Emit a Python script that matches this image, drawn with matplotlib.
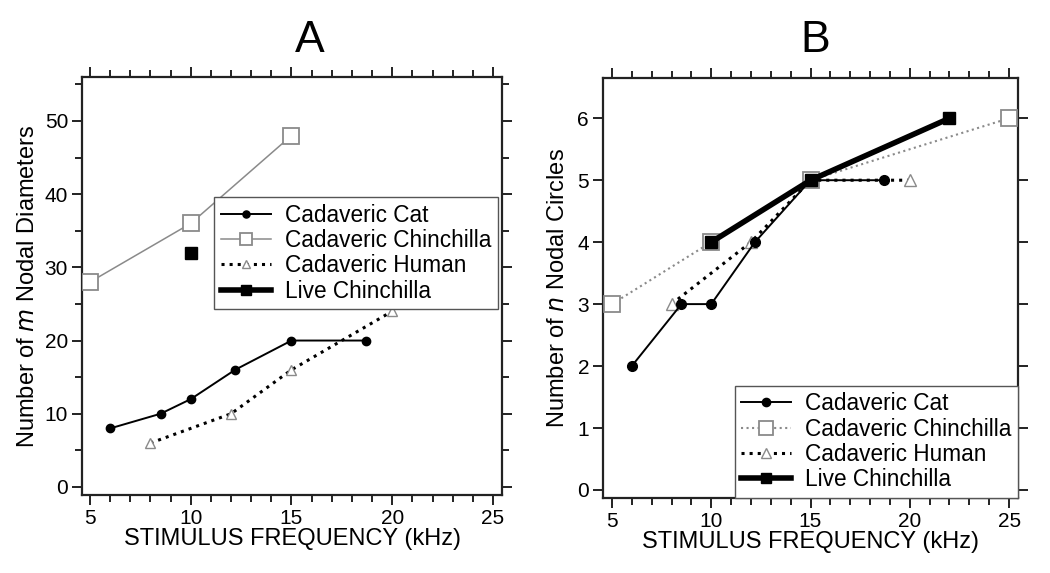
"""Nodal diameters / nodal circles vs stimulus frequency, two panels."""

import matplotlib
matplotlib.use("Agg")
import matplotlib.pyplot as plt
from matplotlib.ticker import MultipleLocator

plt.rcParams["font.family"] = ["Liberation Sans", "DejaVu Sans"]

# Panel A: number of m nodal diameters
a_cat_f = [6, 8.5, 10, 12.2, 15, 18.7]
a_cat_m = [8, 10, 12, 16, 20, 20]
a_chin_f = [5, 10, 15]
a_chin_m = [28, 36, 48]
a_hum_f = [8, 12, 15, 20]
a_hum_m = [6, 10, 16, 24]
a_live_f = [10]
a_live_m = [32]

# Panel B: number of n nodal circles
b_cat_f = [6, 8.5, 10, 12.2, 15, 18.7]
b_cat_n = [2, 3, 3, 4, 5, 5]
b_chin_f = [5, 10, 15, 25]
b_chin_n = [3, 4, 5, 6]
b_hum_f = [8, 12, 15, 20]
b_hum_n = [3, 4, 5, 5]
b_live_f = [10, 15, 22]
b_live_n = [4, 5, 6]

labels = ["Cadaveric Cat", "Cadaveric Chinchilla", "Cadaveric Human", "Live Chinchilla"]
GRAY = "#8a8a8a"

fig = plt.figure(figsize=(10.5, 5.73), dpi=100)
axA = fig.add_axes([82 / 1050, 1 - 495 / 573, 420 / 1050, 418 / 573])
axB = fig.add_axes([603 / 1050, 1 - 498 / 573, 415 / 1050, 420 / 573])

legend_kw = dict(fontsize=16.3, frameon=True, fancybox=False, edgecolor="#555555",
                 framealpha=1, borderpad=0.3, labelspacing=0.1, handlelength=2.2,
                 handletextpad=0.6, borderaxespad=0, markerscale=0.85)


def style_axes(ax):
    for sp in ax.spines.values():
        sp.set_linewidth(1.6)
        sp.set_color("#222222")
    ax.tick_params(which="both", direction="out", top=True, right=True,
                   labelsize=15, width=1.4, color="#222222", pad=3)
    ax.tick_params(which="major", length=7)
    ax.tick_params(which="minor", length=5)
    ax.xaxis.set_major_locator(MultipleLocator(5))
    ax.xaxis.set_minor_locator(MultipleLocator(1))
    ax.set_xlabel("STIMULUS FREQUENCY (kHz)", fontsize=17, labelpad=0)


# --- Panel A ---
axA.plot(a_cat_f, a_cat_m, "-o", color="black", lw=1.4, ms=6, label=labels[0], zorder=4)
axA.plot(a_chin_f, a_chin_m, "-s", color=GRAY, lw=1.1, ms=11, mfc="white", mec=GRAY,
         mew=1.3, label=labels[1], zorder=3)
axA.plot(a_hum_f, a_hum_m, ":^", color="black", lw=2.2, ms=7, mfc="white", mec=GRAY,
         mew=1.0, label=labels[2], zorder=3)
axA.plot(a_live_f, a_live_m, "-s", color="black", lw=4, ms=8, label=labels[3], zorder=4)
axA.set_xlim(4.6, 25.45)
axA.set_ylim(-1.1, 56)
axA.yaxis.set_major_locator(MultipleLocator(10))
axA.yaxis.set_minor_locator(MultipleLocator(5))
style_axes(axA)
axA.set_ylabel("Number of $\\it{m}$ Nodal Diameters", fontsize=17, labelpad=4)
axA.legend(loc="upper right", bbox_to_anchor=(0.99, 0.713), **legend_kw)
fig.text(310 / 1050, 1 - 40 / 573, "A", fontsize=32, ha="center", va="center")

# --- Panel B ---
axB.plot(b_cat_f, b_cat_n, "-o", color="black", lw=1.4, ms=7, label=labels[0], zorder=4)
axB.plot(b_chin_f, b_chin_n, ":s", color=GRAY, lw=1.5, ms=12, mfc="white", mec=GRAY,
         mew=1.3, label=labels[1], zorder=3)
axB.plot(b_hum_f, b_hum_n, ":^", color="black", lw=2.2, ms=8, mfc="white", mec=GRAY,
         mew=1.0, label=labels[2], zorder=3)
axB.plot(b_live_f, b_live_n, "-s", color="black", lw=4, ms=8, label=labels[3], zorder=5)
axB.set_xlim(4.55, 25.45)
axB.set_ylim(-0.13, 6.65)
axB.yaxis.set_major_locator(MultipleLocator(1))
style_axes(axB)
axB.set_ylabel("Number of $\\it{n}$ Nodal Circles", fontsize=17, labelpad=6)
axB.legend(loc="lower right", bbox_to_anchor=(1.0, 0.0), **legend_kw)
fig.text(815 / 1050, 1 - 40 / 573, "B", fontsize=32, ha="center", va="center")

fig.savefig("out.png", dpi=100)
